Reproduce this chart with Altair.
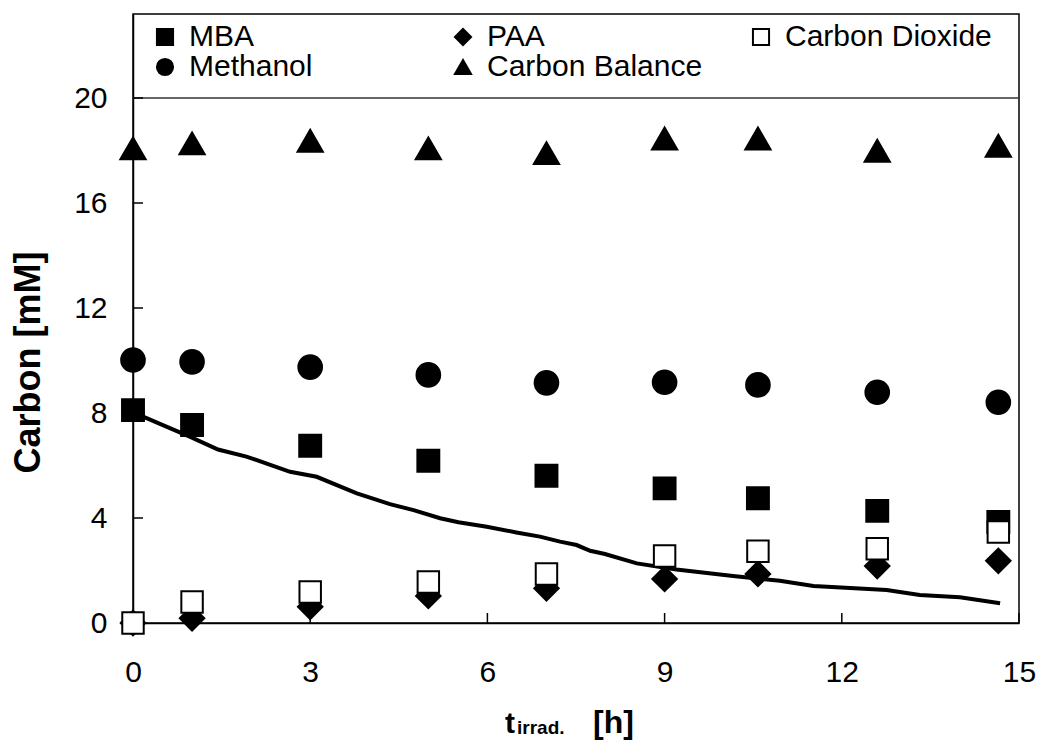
import altair as alt
import pandas as pd

# ---- data ----
time_h = [0, 1, 3, 5, 7, 9, 10.58, 12.6, 14.65]
mba = [8.11, 7.54, 6.75, 6.18, 5.61, 5.13, 4.75, 4.27, 3.85]
paa = [0.0, 0.18, 0.62, 1.03, 1.32, 1.68, 1.87, 2.17, 2.37]
co2 = [0.0, 0.80, 1.18, 1.56, 1.87, 2.55, 2.73, 2.83, 3.47]
methanol = [10.02, 9.95, 9.75, 9.45, 9.15, 9.17, 9.07, 8.79, 8.41]
balance = [18.08, 18.27, 18.37, 18.08, 17.90, 18.46, 18.46, 17.99, 18.18]

series_names = ["MBA", "PAA", "Carbon Dioxide", "Methanol", "Carbon Balance"]
series_values = [mba, paa, co2, methanol, balance]
shapes = ["square", "diamond", "square", "circle", "triangle-up"]
fills = ["black", "black", "white", "black", "black"]
strokes = ["black", "black", "black", "black", "black"]
sizes = [480, 600, 460, 560, 640]

line_t = [0.17, 0.96, 1.44, 1.92, 2.66, 3.11, 3.79, 4.35, 4.75, 5.2, 5.51, 5.99,
          6.49, 6.89, 7.23, 7.51, 7.74, 7.99, 8.53, 9.2, 10.16, 10.95, 11.52,
          12.76, 13.32, 14.0, 14.68]
line_c = [7.86, 7.1, 6.61, 6.34, 5.76, 5.57, 4.94, 4.53, 4.30, 3.99, 3.84, 3.67,
          3.45, 3.29, 3.1, 2.97, 2.75, 2.63, 2.27, 2.04, 1.79, 1.61, 1.41,
          1.26, 1.07, 0.98, 0.75]

x_ticks = [0, 3, 6, 9, 12, 15]
y_ticks = [0, 4, 8, 12, 16, 20]
y_title = "Carbon [mM]"
x_title_parts = ["t", "irrad.", "[h]"]

FONT = "Liberation Sans"

x_scale = alt.Scale(domain=[0, 15], nice=False, zero=False)
y_scale = alt.Scale(domain=[0, 23.2], nice=False, zero=False)

x_enc = alt.X("t:Q", scale=x_scale,
              axis=alt.Axis(values=x_ticks, title=None, ticks=False, tickSize=0,
                            labelPadding=34, grid=False, labelFlush=False))
y_enc = alt.Y("c:Q", scale=y_scale,
              axis=alt.Axis(values=y_ticks, title=y_title, ticks=False, tickSize=0,
                            labelPadding=26, grid=False, titleX=-94, titleY=348,
                            titleAngle=270, titleAlign="center",
                            titleBaseline="alphabetic", titleFontSize=36,
                            titleFontWeight="bold", titleFont=FONT,
                            titleColor="black"))

legend = alt.Legend(title=None, orient="none", legendX=17, legendY=8, columns=3,
                    direction="horizontal", gridAlign="all", columnPadding=43,
                    rowPadding=-6, labelFontSize=30, labelFont=FONT, labelLimit=400,
                    labelOffset=9, symbolSize=260, symbolStrokeWidth=2,
                    padding=0, labelColor="black")

shape_enc = alt.Shape("series:N", scale=alt.Scale(domain=series_names, range=shapes),
                      legend=legend)
fill_enc = alt.Fill("series:N", scale=alt.Scale(domain=series_names, range=fills),
                    legend=legend)
stroke_enc = alt.Stroke("series:N", scale=alt.Scale(domain=series_names, range=strokes),
                        legend=legend)

line = alt.Chart(pd.DataFrame({"t": line_t, "c": line_c})).mark_line(
    color="black", strokeWidth=4).encode(x=x_enc, y=y_enc)

point_layers = []
for name, vals, sz in zip(series_names, series_values, sizes):
    df = pd.DataFrame({"t": time_h, "c": vals, "series": [name] * len(time_h)})
    point_layers.append(
        alt.Chart(df).mark_point(filled=True, opacity=1, strokeWidth=2,
                                 size=sz).encode(
            x=x_enc, y=y_enc, shape=shape_enc, fill=fill_enc, stroke=stroke_enc)
    )

rule20 = alt.Chart(pd.DataFrame({"c": [20]})).mark_rule(
    color="#333333", strokeWidth=1.5).encode(y=y_enc)

yticks = alt.Chart(pd.DataFrame({"t": [0] * len(y_ticks), "c": y_ticks})).mark_tick(
    orient="horizontal", size=10, thickness=1.5, color="black", opacity=1,
    xOffset=5).encode(x=x_enc, y=y_enc)
xticks = alt.Chart(pd.DataFrame({"t": x_ticks, "c": [0] * len(x_ticks)})).mark_tick(
    orient="vertical", size=10, thickness=1.5, color="black", opacity=1,
    yOffset=-5).encode(x=x_enc, y=y_enc)

t_main = alt.Chart(pd.DataFrame({"txt": [x_title_parts[0]]})).mark_text(
    align="left", baseline="alphabetic", font=FONT, fontSize=30, fontWeight="bold",
    color="black").encode(x=alt.value(372), y=alt.value(719), text="txt:N")
t_sub = alt.Chart(pd.DataFrame({"txt": [x_title_parts[1]]})).mark_text(
    align="left", baseline="alphabetic", font=FONT, fontSize=19, fontWeight="bold",
    color="black").encode(x=alt.value(384), y=alt.value(720), text="txt:N")
t_unit = alt.Chart(pd.DataFrame({"txt": [x_title_parts[2]]})).mark_text(
    align="left", baseline="alphabetic", font=FONT, fontSize=32, fontWeight="bold",
    color="black").encode(x=alt.value(460), y=alt.value(719), text="txt:N")

chart = alt.layer(rule20, line, yticks, xticks, *point_layers,
                  t_main, t_sub, t_unit).properties(
    width=886, height=609,
    autosize=alt.AutoSizeParams(type="none"),
    padding={"left": 133, "top": 14, "right": 27, "bottom": 129},
    background="white",
).configure_view(stroke="black", strokeWidth=1.5).configure_axis(
    domainColor="black", domainWidth=1.5, labelFont=FONT, labelFontSize=30,
    labelColor="black", grid=False)

chart.save("out.html", embed_options={"renderer": "svg", "actions": False})
